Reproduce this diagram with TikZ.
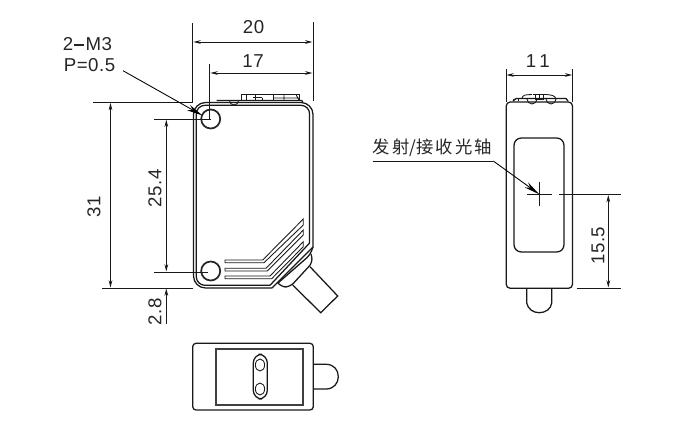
\documentclass[tikz,border=0pt]{standalone}
\usepackage{fontspec}
\setmainfont{Liberation Sans}
\newfontfamily\cjkfont{Noto Sans CJK SC}
\usetikzlibrary{arrows.meta}
\tikzset{
  x=0.75pt,y=-0.75pt,
  dimline/.style={line width=0.65pt,draw=black!90},
  dimarrow/.style={dimline,{Stealth[length=5.5pt,width=2.8pt]}-{Stealth[length=5.5pt,width=2.8pt]}},
  endarrow/.style={dimline,-{Stealth[length=5.5pt,width=2.8pt]}},
  leader/.style={line width=0.65pt,draw=black,-{Stealth[length=12pt,width=4.5pt]}},
  outline/.style={line width=0.95pt,draw=black!90},
  heavy/.style={line width=1.3pt,draw=black!85},
  fine/.style={line width=0.65pt,draw=black!90},
  label/.style={font=\fontsize{14}{16}\selectfont\addfontfeature{LetterSpace=3},inner sep=0pt,text=black!85},
}
\begin{document}
\begin{tikzpicture}
\useasboundingbox[fill=white] (0,0) rectangle (684,432);

% ---------- front view ----------
\draw[outline,rounded corners=9pt] (272,288) -- (193.5,288) -- (193.5,102.5) -- (313,102.5) -- (313,247);
\draw[outline,rounded corners=6.5pt] (270,285.3) -- (196.3,285.3) -- (196.3,105.3) -- (309.6,105.3) -- (309.6,243);
\draw[outline] (272,288) -- (313,247);
\draw[outline] (270,285.3) -- (309.6,243);
\draw[heavy] (210.7,119) circle (9.5);
\draw[heavy] (210.7,271) circle (9.5);

% hatch bands
\draw[fine] (225,260) -- (262.7,260) -- (303.3,219) -- (303.3,225) -- (264,262.7) -- (225,262.7) -- cycle;
\draw[fine] (225,268.3) -- (266,268.3) -- (303.3,230) -- (303.3,235) -- (267.3,271) -- (225,271) -- cycle;
\draw[fine] (225,276) -- (270,276) -- (303.3,241.7) -- (303.3,246.7) -- (271.7,278.7) -- (225,278.7) -- cycle;

% gland and cable
\draw[outline,rounded corners=3pt] (278,283) -- (310,255) -- (313,247);
\draw[outline,rounded corners=4pt] (311,254) -- (313,262) -- (290,287) -- (281,287) -- (278,283);
\draw[outline] (310,266.7) -- (337.7,296) -- (320.7,312.7) -- (292.7,285);

% top details on front view
\draw[outline] (216.7,100.5) -- (301.7,100.5) -- (303,102.5);
\draw[fine] (229.5,100.5) arc[start angle=180,end angle=0,radius=4.5];
\draw[fine] (241.7,94.3) rectangle (255,100.5);
\draw[fine] (255,94.3) -- (273,94.3) -- (273,100.5);
\draw[fine] (246,94.3) -- (246,100.5) (253,97.5) -- (262,97.5) (262,97.5) -- (262,100.5);
\draw[fine] (273,94.3) rectangle (299,100.5);
\draw[fine] (284,94.3) -- (284,100.5) (273,98) -- (299,98) (296,94.3) -- (299,100.5);

% dimensions, front view
\coordinate (fvLT) at (192.7,102.3);
\coordinate (fvLB) at (192.7,288);
\coordinate (fvRT) at (313,101);
\draw[dimline] (192.7,23) -- (fvLT);
\draw[dimline] (313,22) -- (fvRT);
\draw[dimline] (209.7,64) -- (209.7,119);
\draw[dimline] (93,102.3) -- (fvLT);
\draw[dimline] (154,119) -- (210.7,119);
\draw[dimline] (154,272) -- (208,272);
\draw[dimline] (102,288) -- (fvLB);
\coordinate (d20a) at (193.4,42); \coordinate (d20b) at (312.4,42);
\draw[dimarrow] (d20a) -- (d20b);
\coordinate (d17a) at (210.4,73); \coordinate (d17b) at (312.4,73);
\draw[dimarrow] (d17a) -- (d17b);
\coordinate (d31a) at (110.5,103); \coordinate (d31b) at (110.5,287.5);
\draw[dimarrow] (d31a) -- (d31b);
\coordinate (d25a) at (166.3,119.7); \coordinate (d25b) at (166.3,271.5);
\draw[dimarrow] (d25a) -- (d25b);
\coordinate (d28a) at (166.3,324); \coordinate (d28b) at (166.3,288.5);
\draw[endarrow] (d28a) -- (d28b);

\node[label] (t20) at (253.5,27) {20};
\node[label] (t17) at (253,61) {17};
\node[label,rotate=90] (t31) at (94,207) {31};
\node[label,rotate=90] (t254) at (155,188) {25.4};
\node[label,rotate=90] (t28) at (155,312) {2.8};
\node[label,anchor=west] (tm3) at (62.5,44) {2\hspace{1pt}\rule[0.24em]{0.52em}{1.4pt}\hspace{1pt}M3};
\node[label,anchor=west] (tp) at (63.5,65) {P=0.5};
\coordinate (hole) at (202.5,115.5);
\draw[leader] (123,70.7) -- (hole);

% ---------- bottom view ----------
\draw[outline,rounded corners=2.5pt] (192.7,343.3) rectangle (313.3,410);
\draw[line width=1.5pt,draw=black!75] (215.7,349) rectangle (302.7,405);
\draw[outline,rounded corners=6.5pt] (253.3,354.3) rectangle (267.3,399);
\draw[fine] (260,365) ellipse (4.6 and 6);
\draw[fine] (260,389) ellipse (4.6 and 6);
\draw[outline] (313.3,364.3) -- (326,364.3) .. controls (334,364.3) and (338.3,370) .. (338.3,376.7) .. controls (338.3,383) and (334,389) .. (326,389) -- (313.3,389);

% ---------- side view ----------
\draw[outline,rounded corners=3pt] (506.2,288.3) -- (506.2,102) -- (572.5,102) -- (572.5,288.3) -- cycle;
\draw[outline,rounded corners=5.5pt] (514,138) rectangle (564,252);
\draw[outline] (526.7,288.3) -- (526.7,303) .. controls (528,309) and (533,312.7) .. (539.3,312.7) .. controls (545.5,312.7) and (551,309) .. (551.7,303) -- (551.7,288.3);
% top details on side view
\draw[outline] (513,101) -- (516,98.5) -- (566,98.5) -- (568,101);
\draw[fine] (521.5,99) .. controls (523,94) and (526,95) .. (532,94.5) (533,94.5) -- (546,94.5) .. controls (552,95) and (555,95.5) .. (556,99);
\draw[fine] (527,99) arc[start angle=180,end angle=0,radius=5];
\draw[fine] (546,99) arc[start angle=180,end angle=0,radius=5];
\draw[fine] (535,94) rectangle (543,99) (539,94) -- (539,99);
\draw[fine] (513,101) -- (513,98.5) (518,98.5) -- (518,101);

\coordinate (sideL) at (506,101.5); \coordinate (sideR) at (572.7,101.5);
\draw[dimline] (506,69.3) -- (sideL);
\draw[dimline] (572.7,69.3) -- (sideR);
\coordinate (d11a) at (506.5,75); \coordinate (d11b) at (572.2,75);
\draw[dimarrow] (d11a) -- (d11b);
\node[label] (t11) at (537.7,60.7) {1\,1};

% optical axis
\coordinate (axis) at (539.3,194.3);
\draw[fine] (539.3,181.7) -- (539.3,206);
\draw[fine] (526.7,194.3) -- (551.7,194.3);
\draw[dimline] (559,194.3) -- (621,194.3);
\draw[dimline] (576.7,288) -- (621,288);
\coordinate (d15a) at (608.3,195); \coordinate (d15b) at (608.3,287.5);
\draw[dimarrow] (d15a) -- (d15b);
\node[label,rotate=90] (t155) at (598,245.7) {15.5};

\node[inner sep=0pt,anchor=west,text=black!85] (taxis) at (372.5,148) {\fontsize{13}{15}\selectfont\cjkfont 发\hspace{1.6pt}射/接\hspace{1.6pt}收\hspace{1.6pt}光\hspace{1.6pt}轴};
\coordinate (ulA) at (372.7,161); \coordinate (ulB) at (493.3,161);
\draw[dimline] (ulA) -- (ulB);
\draw[leader] (ulB) -- (axis);
\end{tikzpicture}
\end{document}
